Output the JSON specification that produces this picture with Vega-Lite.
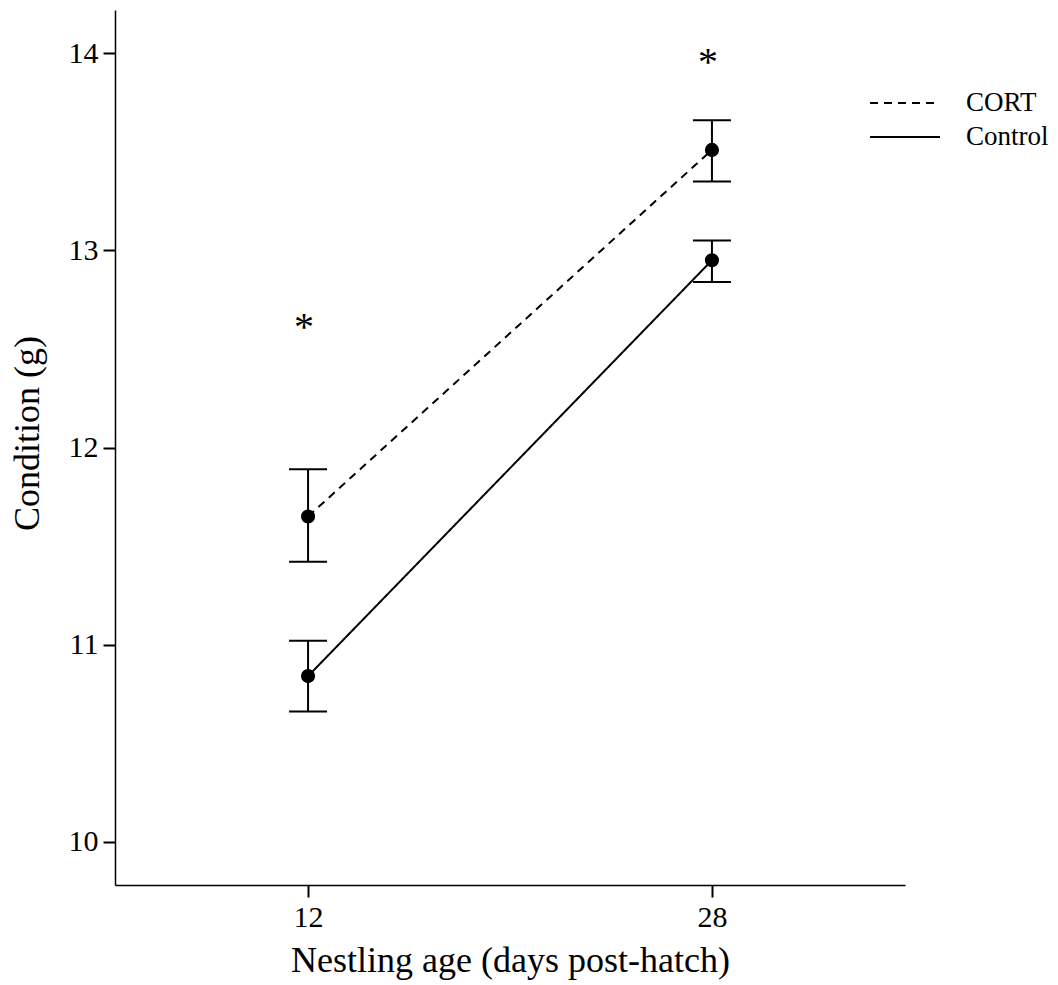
{
  "$schema": "https://vega.github.io/schema/vega-lite/v6.json",
  "width": 790,
  "height": 875,
  "autosize": "none",
  "padding": {"left": 115, "top": 10, "right": 153, "bottom": 100},
  "background": "white",
  "config": {
    "view": {"stroke": null},
    "font": "Liberation Serif",
    "axis": {
      "domainColor": "black",
      "domainWidth": 1.5,
      "tickColor": "black",
      "tickWidth": 2,
      "tickSize": 12,
      "labelColor": "black",
      "titleColor": "black",
      "labelFont": "Liberation Serif",
      "titleFont": "Liberation Serif",
      "labelFontSize": 30,
      "titleFontSize": 36,
      "titleFontWeight": "normal",
      "grid": false
    }
  },
  "datasets": {
    "means": [
      {"group": "CORT", "age": "12", "mean": 11.65, "lo": 11.42, "hi": 11.89},
      {"group": "CORT", "age": "28", "mean": 13.51, "lo": 13.35, "hi": 13.66},
      {"group": "Control", "age": "12", "mean": 10.84, "lo": 10.66, "hi": 11.02},
      {"group": "Control", "age": "28", "mean": 12.95, "lo": 12.84, "hi": 13.05}
    ],
    "stars": [
      {"age": "12", "y": 12.64, "label": "*"},
      {"age": "28", "y": 13.985, "label": "*"}
    ]
  },
  "encoding": {
    "x": {
      "field": "age",
      "type": "ordinal",
      "sort": ["12", "28"],
      "scale": {"type": "point", "padding": 0.478, "domain": ["12", "28"]},
      "axis": {"title": "Nestling age (days post-hatch)", "labelAngle": 0, "labelPadding": 5, "titlePadding": 11}
    }
  },
  "layer": [
    {
      "data": {"name": "means"},
      "mark": {"type": "line", "strokeWidth": 2, "color": "black"},
      "encoding": {
        "y": {
          "field": "mean",
          "type": "quantitative",
          "scale": {"domain": [9.78, 14.22], "nice": false, "zero": false},
          "axis": {"title": "Condition (g)", "values": [10, 11, 12, 13, 14], "format": "d", "labelPadding": 5, "titlePadding": 22, "titleY": 423}
        },
        "strokeDash": {
          "field": "group",
          "type": "nominal",
          "scale": {"domain": ["CORT", "Control"], "range": [[8, 6], [1, 0]]},
          "legend": {
            "title": null,
            "orient": "none",
            "legendX": 754,
            "legendY": 78,
            "symbolType": "stroke",
            "symbolSize": 4900,
            "symbolStrokeColor": "black",
            "symbolStrokeWidth": 2,
            "labelFont": "Liberation Serif",
            "labelFontSize": 27,
            "labelColor": "black",
            "labelOffset": 25,
            "clipHeight": 30,
            "rowPadding": 4,
            "symbolLimit": 0
          }
        }
      }
    },
    {
      "data": {"name": "means"},
      "mark": {"type": "rule", "strokeWidth": 2, "color": "black"},
      "encoding": {
        "y": {"field": "lo", "type": "quantitative"},
        "y2": {"field": "hi"}
      }
    },
    {
      "data": {"name": "means"},
      "mark": {"type": "tick", "orient": "horizontal", "size": 38, "thickness": 2, "color": "black", "opacity": 1},
      "encoding": {"y": {"field": "lo", "type": "quantitative"}}
    },
    {
      "data": {"name": "means"},
      "mark": {"type": "tick", "orient": "horizontal", "size": 38, "thickness": 2, "color": "black", "opacity": 1},
      "encoding": {"y": {"field": "hi", "type": "quantitative"}}
    },
    {
      "data": {"name": "means"},
      "mark": {"type": "point", "filled": true, "size": 200, "color": "black", "opacity": 1},
      "encoding": {"y": {"field": "mean", "type": "quantitative"}}
    },
    {
      "data": {"name": "stars"},
      "mark": {"type": "text", "fontSize": 40, "font": "Liberation Serif", "color": "black", "baseline": "middle", "dx": -4, "dy": 7},
      "encoding": {
        "y": {"field": "y", "type": "quantitative"},
        "text": {"field": "label"}
      }
    }
  ]
}
